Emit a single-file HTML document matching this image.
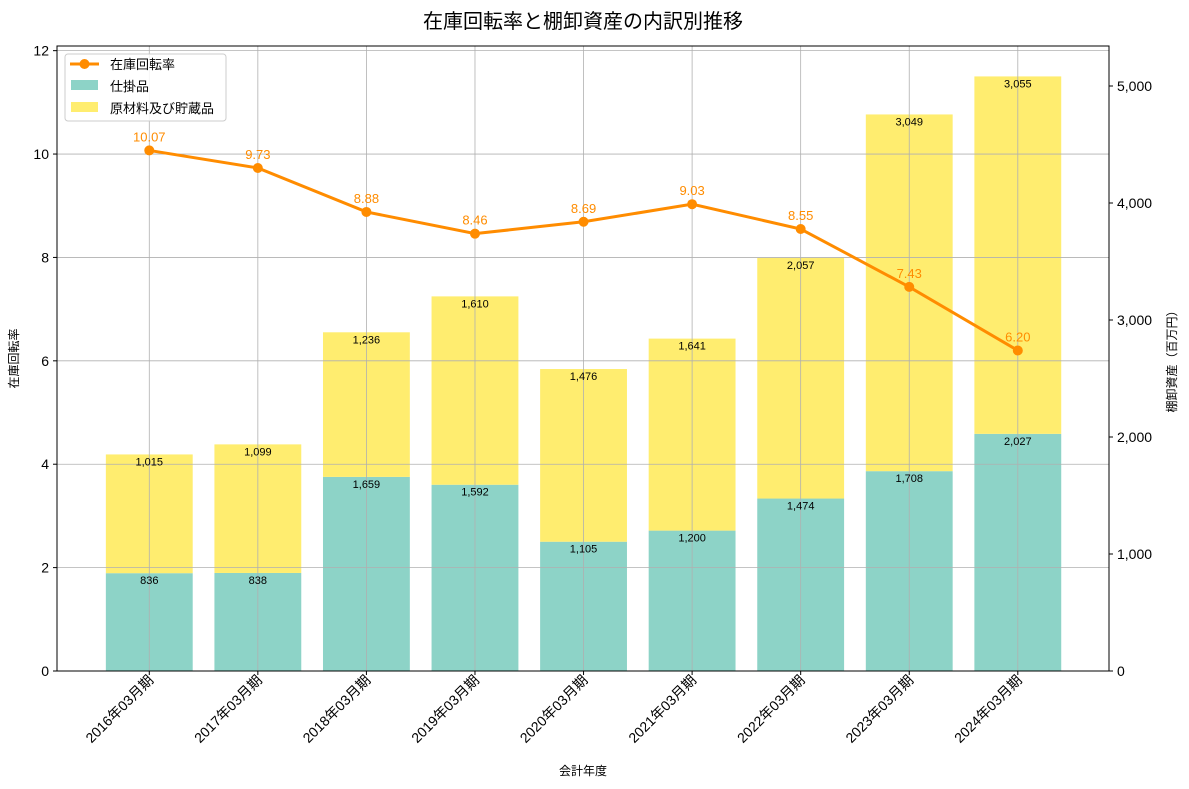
<!DOCTYPE html>
<html><head><meta charset="utf-8">
<style>
body{margin:0;background:#fff;}
svg{display:block;font-family:"Liberation Sans","Noto Sans CJK JP",sans-serif;}
</style></head>
<body>
<svg id="chart" width="1189" height="789"></svg>
<script>
const categories=["2016年03月期","2017年03月期","2018年03月期","2019年03月期","2020年03月期","2021年03月期","2022年03月期","2023年03月期","2024年03月期"];
const wip=[836,838,1659,1592,1105,1200,1474,1708,2027];
const raw=[1015,1099,1236,1610,1476,1641,2057,3049,3055];
const turnover=[10.07,9.73,8.88,8.46,8.69,9.03,8.55,7.43,6.20];
const leftTicks=[0,2,4,6,8,10,12];
const rightTicks=[0,1000,2000,3000,4000,5000];

const L=57,R=1109,T=46,B=671;
const xMin=-0.85,xMax=8.84;
const yL=v=>B-(v/12.09)*(B-T);
const yR=v=>B-(v/5342)*(B-T);
const xS=i=>L+(i-xMin)/(xMax-xMin)*(R-L);
const bw=0.8*(R-L)/(xMax-xMin);
const svg=document.getElementById('chart');
const NS='http://www.w3.org/2000/svg';
function mk(tag,attrs,parent){const e=document.createElementNS(NS,tag);for(const k in attrs)e.setAttribute(k,attrs[k]);(parent||svg).appendChild(e);return e;}
function txt(s,attrs){const e=mk('text',attrs);e.textContent=s;return e;}
const fmt=v=>v.toLocaleString('en-US');

categories.forEach((c,i)=>{
  const x=xS(i)-bw/2;
  const b1=mk('rect',{x:x,y:yR(wip[i]),width:bw,height:B-yR(wip[i]),fill:'#8dd3c7'});
  
  
  const b2=mk('rect',{x:x,y:yR(wip[i]+raw[i]),width:bw,height:yR(wip[i])-yR(wip[i]+raw[i]),fill:'#ffed6f'});
  
  
});
const g=mk('g',{stroke:'#b0b0b0','stroke-width':0.8});


leftTicks.forEach(v=>mk('line',{x1:L,x2:R,y1:yL(v),y2:yL(v)},g));
categories.forEach((c,i)=>mk('line',{x1:xS(i),x2:xS(i),y1:T,y2:B},g));
categories.forEach((c,i)=>{
  const t1=txt(fmt(wip[i]),{x:xS(i),y:yR(wip[i])+11,'font-size':11,'text-anchor':'middle',fill:'#000'});
  
  
  const t2=txt(fmt(raw[i]),{x:xS(i),y:yR(wip[i]+raw[i])+11,'font-size':11,'text-anchor':'middle',fill:'#000'});
  
  
});
const pts=turnover.map((v,i)=>xS(i)+','+yL(v)).join(' ');
const pl=mk('polyline',{points:pts,fill:'none',stroke:'#ff8c00','stroke-width':3});


turnover.forEach((v,i)=>{
  const c=mk('circle',{cx:xS(i),cy:yL(v),r:5,fill:'#ff8c00'});
  
  
  const t=txt(v.toFixed(2),{x:xS(i),y:yL(v)-9,'font-size':13,'text-anchor':'middle',fill:'#ff8c00'});
  
  
});
const fr=mk('rect',{x:L,y:T,width:R-L,height:B-T,fill:'none',stroke:'#000','stroke-width':1});


leftTicks.forEach(v=>{
  mk('line',{x1:L-4,x2:L,y1:yL(v),y2:yL(v),stroke:'#000'});
  const t=txt(String(v),{x:L-8,y:yL(v)+5,'font-size':14,'text-anchor':'end'});
  
  
});
rightTicks.forEach(v=>{
  mk('line',{x1:R,x2:R+4,y1:yR(v),y2:yR(v),stroke:'#000'});
  const t=txt(fmt(v),{x:R+8,y:yR(v)+5,'font-size':14,'text-anchor':'start'});
  
  
});
categories.forEach((c,i)=>{
  mk('line',{x1:xS(i),x2:xS(i),y1:B,y2:B+4,stroke:'#000'});
  const ax=xS(i)+5,ay=B+10;
  const t=txt(c,{x:ax,y:ay,'font-size':14,'text-anchor':'end',transform:`rotate(-45 ${ax} ${ay})`});
  
  
});
let t;
t=txt('在庫回転率と棚卸資産の内訳別推移',{x:(L+R)/2,y:28,'font-size':20,'text-anchor':'middle'});

t=txt('会計年度',{x:(L+R)/2,y:775,'font-size':12,'text-anchor':'middle'});

t=txt('在庫回転率',{x:18,y:(T+B)/2,'font-size':12,'text-anchor':'middle',transform:`rotate(-90 18 ${(T+B)/2})`});

t=txt('棚卸資産（百万円）',{x:1176,y:(T+B)/2,'font-size':12,'text-anchor':'middle',transform:`rotate(-90 1176 ${(T+B)/2})`});

const lg=mk('g',{});


mk('rect',{x:65,y:54,width:161,height:67,rx:3,fill:'#fff','fill-opacity':0.85,stroke:'#ccc'},lg);
mk('line',{x1:70,x2:99,y1:64,y2:64,stroke:'#ff8c00','stroke-width':3},lg);
mk('circle',{cx:84.5,cy:64,r:5,fill:'#ff8c00'},lg);
mk('rect',{x:71,y:80,width:27,height:10,fill:'#8dd3c7'},lg);
mk('rect',{x:71,y:102,width:27,height:10,fill:'#ffed6f'},lg);
[['在庫回転率',69],['仕掛品',91],['原材料及び貯蔵品',113]].forEach(([s,y],k)=>{
  const e=mk('text',{x:110,y:y,'font-size':13},lg);e.textContent=s;
  
  
});
</script>
</body></html>
